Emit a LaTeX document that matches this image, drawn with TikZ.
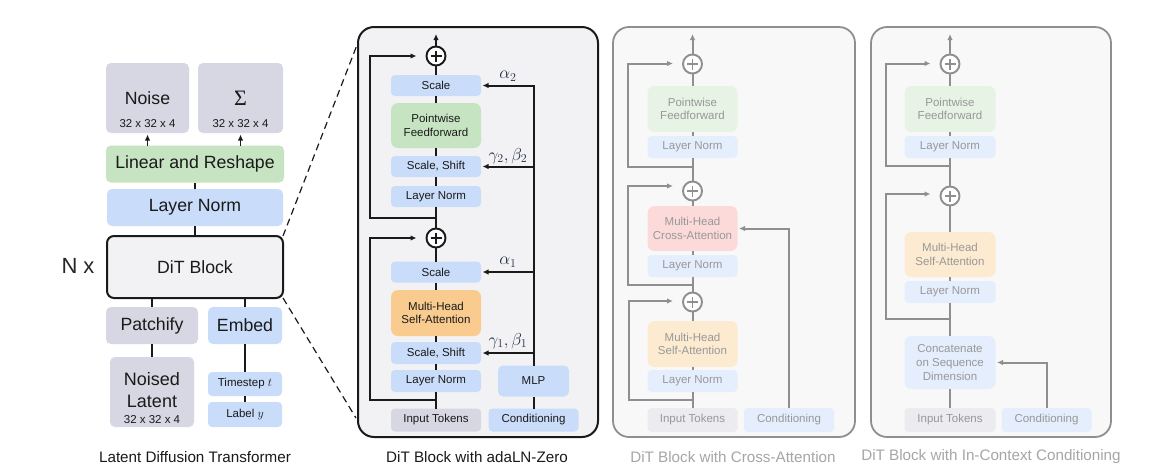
\documentclass[tikz,border=0pt]{standalone}
\usepackage{fontspec}
\setmainfont{Liberation Sans}
\newfontfamily\serifglyph{Liberation Serif}
\usetikzlibrary{arrows.meta,calc}

\definecolor{boxGray}{HTML}{D6D7E2}
\definecolor{boxGreen}{HTML}{C7E4C2}
\definecolor{boxBlue}{HTML}{C9DCF9}
\definecolor{boxOrange}{HTML}{F9CB8F}
\definecolor{panelFill}{HTML}{F2F2F4}
\definecolor{inkDark}{HTML}{1A1A1A}
\definecolor{greekInk}{HTML}{1F2B45}
\definecolor{fadeLine}{HTML}{8F8F8F}
\definecolor{fadeText}{HTML}{989898}
\definecolor{fadeCap}{HTML}{A6A6A6}
\definecolor{fadeFill}{HTML}{F8F8F8}
\definecolor{fadeGray}{HTML}{EBEBF0}
\definecolor{fadeGreen}{HTML}{E7F3E4}
\definecolor{fadeBlue}{HTML}{E5EEFD}
\definecolor{fadeRed}{HTML}{FDDADA}
\definecolor{fadeOrange}{HTML}{FCEBD0}

\newcommand{\fsz}[2]{\fontsize{#1}{#2}\selectfont}

\tikzset{
  base/.style={inner sep=0pt, outer sep=0pt, align=center, text=inkDark},
  blk/.style={base, rounded corners=4pt, font=\fsz{11.5}{13.5}},
  fblk/.style={blk, text=fadeText},
  bigblk/.style={base, rounded corners=5pt, font=\fsz{17.7}{21}},
  conn/.style={line width=2pt, draw=inkDark},
  flow/.style={conn, -{Latex[length=6pt,width=5.5pt]}},
  fconn/.style={line width=2pt, draw=fadeLine},
  fflow/.style={fconn, -{Latex[length=6pt,width=5.5pt]}},
  zoomline/.style={line width=1.2pt, draw=inkDark, dash pattern=on 7pt off 4.5pt},
  plusnode/.style={circle, minimum size=19pt, inner sep=0pt, outer sep=0pt,
    line width=1.9pt, draw=#1, fill=white,
    path picture={\draw[line width=1.9pt, color=#1]
      ([xshift=-5.5pt]path picture bounding box.center) --
      ([xshift=5.5pt]path picture bounding box.center)
      ([yshift=-5.5pt]path picture bounding box.center) --
      ([yshift=5.5pt]path picture bounding box.center);}},
  glab/.style={base, text=greekInk, font=\fsz{17}{20}},
  captext/.style={base, font=\fsz{15.2}{18}},
  panel/.style={base, rounded corners=16pt, minimum height=410pt},
}

\begin{document}
\begin{tikzpicture}[x=1pt,y=-1pt]
\fill[white] (0,0) rectangle (1153,475);
\useasboundingbox (0,0) rectangle (1153,475);

% ---------------- Latent Diffusion Transformer ----------------
\node[bigblk, fill=boxGray, minimum width=83pt, minimum height=70pt] (noise) at (147.5,98) {Noise};
\node[base, font=\fsz{11.4}{13}] (noiseDim) at (147.5,124) {32 x 32 x 4};
\node[bigblk, fill=boxGray, minimum width=85pt, minimum height=70pt] (sigma) at (240.5,98) {\serifglyph\fsz{22}{24}Σ};
\node[base, font=\fsz{11.4}{13}] (sigmaDim) at (240.5,124) {32 x 32 x 4};
\node[bigblk, fill=boxGreen, minimum width=178pt, minimum height=37pt] (linres) at (195,164) {Linear and Reshape};
\node[bigblk, fill=boxBlue, minimum width=176pt, minimum height=37pt] (normL) at (195,207.5) {Layer Norm};
\node[bigblk, fill=panelFill, draw=inkDark, line width=2pt, rounded corners=7pt,
      minimum width=176pt, minimum height=62pt] (dit) at (195,267) {DiT Block};
\node[base, font=\fsz{22}{26}, text=black!85] (nx) at (78,266) {N x};
\node[bigblk, fill=boxGray, minimum width=92pt, minimum height=37pt] (patch) at (152,325.5) {Patchify};
\node[bigblk, fill=boxBlue, minimum width=74pt, minimum height=37pt] (embed) at (245,325.5) {Embed};
\node[bigblk, fill=boxGray, minimum width=84pt, minimum height=70pt] (latent) at (152,392) {};
\node[base, font=\fsz{18}{21.3}] (latentTxt) at (152,390) {Noised\\Latent};
\node[base, font=\fsz{11.5}{13}] (latentDim) at (152,420) {32 x 32 x 4};
\node[blk, fill=boxBlue, minimum width=74pt, minimum height=24pt] (tstep) at (245,384) {Timestep $t$};
\node[blk, fill=boxBlue, minimum width=74pt, minimum height=25pt] (label) at (245,414.5) {Label $y$};
\node[captext] (capL) at (195,457) {Latent Diffusion Transformer};

\draw[flow, line width=1.4pt, shorten >=1.5pt] (linres.north -| noise.south) -- (noise.south);
\draw[flow, line width=1.4pt, shorten >=1.5pt] (linres.north -| sigma.south) -- (sigma.south);
\draw[conn] (normL) -- (linres);
\draw[conn] (dit) -- (normL);
\draw[conn] (dit.south -| patch.north) -- (patch.north);
\draw[conn] (patch) -- (latent);
\draw[conn] (dit.south -| embed.north) -- (embed.north);
\draw[conn] (embed) -- (tstep);
\draw[conn] (tstep) -- (label);

% ---------------- DiT block with adaLN-Zero ----------------
\node[panel, draw=inkDark, line width=2pt, fill=panelFill, minimum width=240pt] (panelA) at (478,232) {};

\coordinate (zoomTop) at (357,45);
\coordinate (zoomBot) at (356,418);
\draw[zoomline] (dit.north east) -- (zoomTop);
\draw[zoomline] (dit.south east) -- (zoomBot);

\node[plusnode=inkDark] (addA2) at (436,56) {};
\node[blk, fill=boxBlue, minimum width=90pt, minimum height=21pt] (scaleA2) at (436,85.5) {Scale};
\node[blk, fill=boxGreen, rounded corners=7pt, minimum width=90pt, minimum height=45pt] (pffA) at (436,125.5) {Pointwise\\Feedforward};
\node[blk, fill=boxBlue, minimum width=90pt, minimum height=21pt] (shiftA2) at (436,166.5) {Scale, Shift};
\node[blk, fill=boxBlue, minimum width=90pt, minimum height=21pt] (normA2) at (436,196.5) {Layer Norm};
\node[plusnode=inkDark] (addA1) at (436,238) {};
\node[blk, fill=boxBlue, minimum width=90pt, minimum height=21pt] (scaleA1) at (436,272) {Scale};
\node[blk, fill=boxOrange, rounded corners=7pt, minimum width=90pt, minimum height=46pt] (attnA) at (436,313) {Multi-Head\\Self-Attention};
\node[blk, fill=boxBlue, minimum width=90pt, minimum height=22pt] (shiftA1) at (436,353) {Scale, Shift};
\node[blk, fill=boxBlue, minimum width=90pt, minimum height=22pt] (normA1) at (436,381) {Layer Norm};
\node[blk, fill=boxGray, minimum width=90pt, minimum height=23pt] (tokA) at (436,420) {Input Tokens};
\node[blk, fill=boxBlue, minimum width=90pt, minimum height=23pt] (condA) at (533.5,420) {Conditioning};
\node[blk, fill=boxBlue, rounded corners=5pt, minimum width=71pt, minimum height=31pt] (mlpA) at (533.5,381) {MLP};

\coordinate (outA) at (436,34);
\draw[flow] (addA2) -- (outA);
\draw[conn] (scaleA2) -- (addA2);
\draw[conn] (pffA) -- (scaleA2);
\draw[conn] (shiftA2) -- (pffA);
\draw[conn] (normA2) -- (shiftA2);
\draw[conn] (addA1) -- (normA2);
\draw[conn] (scaleA1) -- (addA1);
\draw[conn] (attnA) -- (scaleA1);
\draw[conn] (shiftA1) -- (attnA);
\draw[conn] (normA1) -- (shiftA1);
\draw[conn] (tokA) -- (normA1);

\coordinate (resA2) at (436,218);
\coordinate (bendA2) at (370,56);
\draw[flow, shorten >=10pt] (resA2) -| (bendA2) -- (bendA2 -| addA2.west);
\coordinate (resA1) at (436,400);
\coordinate (bendA1) at (370,238);
\draw[flow, shorten >=10pt] (resA1) -| (bendA1) -- (bendA1 -| addA1.west);

\draw[conn] (condA) -- (mlpA);
\draw[flow, shorten >=1.5pt] (mlpA.north) |- (scaleA2.east);
\draw[flow, shorten >=1.5pt] (mlpA.north |- shiftA2.east) -- (shiftA2.east);
\draw[flow, shorten >=1.5pt] (mlpA.north |- scaleA1.east) -- (scaleA1.east);
\draw[flow, shorten >=1.5pt] (mlpA.north |- shiftA1.east) -- (shiftA1.east);

\node[glab] (alphaA2) at (508,76) {$\alpha_2$};
\node[glab] (gbA2) at (508,156) {$\gamma_2,\beta_2$};
\node[glab] (alphaA1) at (508,262) {$\alpha_1$};
\node[glab] (gbA1) at (508,341) {$\gamma_1,\beta_1$};

\node[captext] (capA) at (477,457) {DiT Block with adaLN-Zero};

% ---------------- DiT block with cross-attention ----------------
\node[panel, draw=fadeLine, line width=1.8pt, fill=fadeFill, minimum width=242pt] (panelB) at (734,232) {};

\node[plusnode=fadeLine] (addB3) at (692.5,64) {};
\node[fblk, fill=fadeGreen, rounded corners=7pt, minimum width=90pt, minimum height=46pt] (pffB) at (692.5,109) {Pointwise\\Feedforward};
\node[fblk, fill=fadeBlue, minimum width=90pt, minimum height=22pt] (normB3) at (692.5,147) {Layer Norm};
\node[plusnode=fadeLine] (addB2) at (692.5,191) {};
\node[fblk, fill=fadeRed, rounded corners=7pt, minimum width=90pt, minimum height=45pt] (crossB) at (692.5,228.5) {Multi-Head\\Cross-Attention};
\node[fblk, fill=fadeBlue, minimum width=90pt, minimum height=22pt] (normB2) at (692.5,266) {Layer Norm};
\node[plusnode=fadeLine] (addB1) at (692.5,302) {};
\node[fblk, fill=fadeOrange, rounded corners=7pt, minimum width=90pt, minimum height=46pt] (attnB) at (692.5,344) {Multi-Head\\Self-Attention};
\node[fblk, fill=fadeBlue, minimum width=90pt, minimum height=22pt] (normB1) at (692.5,381) {Layer Norm};
\node[fblk, fill=fadeGray, minimum width=90pt, minimum height=24pt] (tokB) at (692.5,420) {Input Tokens};
\node[fblk, fill=fadeBlue, minimum width=90pt, minimum height=24pt] (condB) at (789,420) {Conditioning};

\coordinate (outB) at (692.5,34);
\draw[fflow] (addB3) -- (outB);
\draw[fconn] (pffB) -- (addB3);
\draw[fconn] (normB3) -- (pffB);
\draw[fconn] (addB2) -- (normB3);
\draw[fconn] (crossB) -- (addB2);
\draw[fconn] (normB2) -- (crossB);
\draw[fconn] (addB1) -- (normB2);
\draw[fconn] (attnB) -- (addB1);
\draw[fconn] (normB1) -- (attnB);
\draw[fconn] (tokB) -- (normB1);

\coordinate (resB3) at (692.5,167);
\coordinate (bendB3) at (628,63.5);
\draw[fflow, shorten >=10pt] (resB3) -| (bendB3) -- (bendB3 -| addB3.west);
\coordinate (resB2) at (692.5,285);
\coordinate (bendB2) at (628,186);
\draw[fflow, shorten >=10pt] (resB2) -| (bendB2) -- (bendB2 -| addB2.west);
\coordinate (resB1) at (692.5,400);
\coordinate (bendB1) at (629,301);
\draw[fflow, shorten >=10pt] (resB1) -| (bendB1) -- (bendB1 -| addB1.west);
\draw[fflow, shorten >=1.5pt] (condB.north) |- (crossB.east);

\node[captext, text=fadeCap] (capB) at (733,457) {DiT Block with Cross-Attention};

% ---------------- DiT block with in-context conditioning ----------------
\node[panel, draw=fadeLine, line width=1.8pt, fill=fadeFill, minimum width=240pt] (panelC) at (991,232) {};

\node[plusnode=fadeLine] (addC2) at (950,64) {};
\node[fblk, fill=fadeGreen, rounded corners=7pt, minimum width=91pt, minimum height=46pt] (pffC) at (950,109) {Pointwise\\Feedforward};
\node[fblk, fill=fadeBlue, minimum width=91pt, minimum height=22pt] (normC2) at (950,147) {Layer Norm};
\node[plusnode=fadeLine] (addC1) at (950,196) {};
\node[fblk, fill=fadeOrange, rounded corners=7pt, minimum width=91pt, minimum height=45pt] (attnC) at (950,254.5) {Multi-Head\\Self-Attention};
\node[fblk, fill=fadeBlue, minimum width=91pt, minimum height=22pt] (normC1) at (950,292) {Layer Norm};
\node[fblk, fill=fadeBlue, rounded corners=7pt, minimum width=91pt, minimum height=53pt, font=\fsz{11.5}{14}] (concatC) at (950,362.5) {Concatenate\\on Sequence\\Dimension};
\node[fblk, fill=fadeGray, minimum width=91pt, minimum height=24pt] (tokC) at (950,420) {Input Tokens};
\node[fblk, fill=fadeBlue, minimum width=90pt, minimum height=24pt] (condC) at (1046.5,420) {Conditioning};

\coordinate (outC) at (950,34);
\draw[fflow] (addC2) -- (outC);
\draw[fconn] (pffC) -- (addC2);
\draw[fconn] (normC2) -- (pffC);
\draw[fconn] (addC1) -- (normC2);
\draw[fconn] (attnC) -- (addC1);
\draw[fconn] (normC1) -- (attnC);
\draw[fconn] (concatC) -- (normC1);
\draw[fconn] (tokC) -- (concatC);

\coordinate (resC2) at (950,166);
\coordinate (bendC2) at (886,63.5);
\draw[fflow, shorten >=10pt] (resC2) -| (bendC2) -- (bendC2 -| addC2.west);
\coordinate (resC1) at (950,319);
\coordinate (bendC1) at (886,194);
\draw[fflow, shorten >=10pt] (resC1) -| (bendC1) -- (bendC1 -| addC1.west);
\draw[fflow, shorten >=1.5pt] (condC.north) |- (concatC.east);

\node[captext, text=fadeCap] (capC) at (991,457) {DiT Block with In-Context Conditioning};
\end{tikzpicture}
\end{document}
